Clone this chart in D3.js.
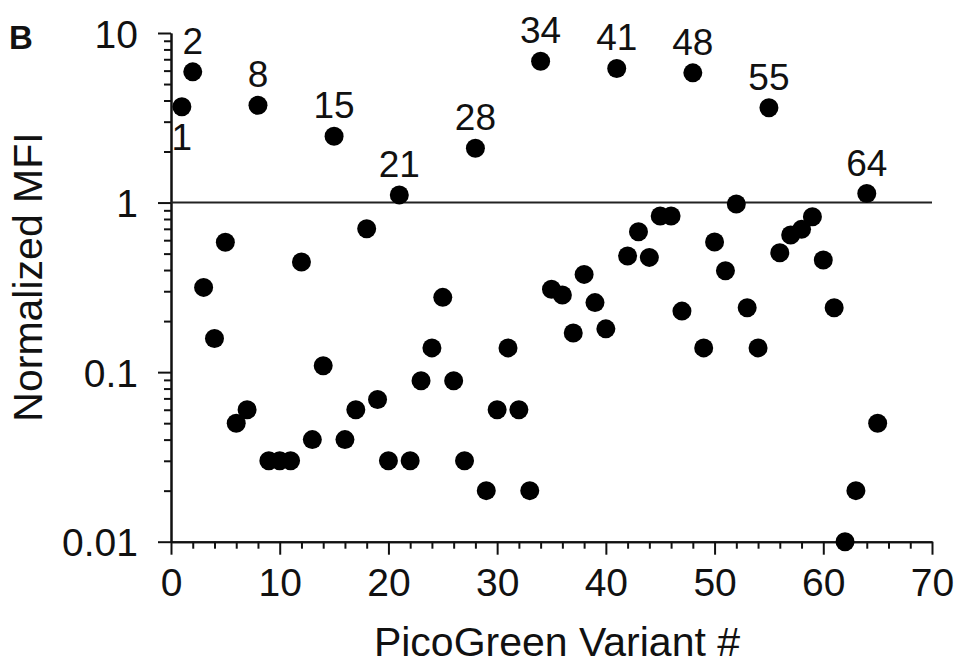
<!DOCTYPE html>
<html>
<head>
<meta charset="utf-8">
<script src="https://cdn.jsdelivr.net/npm/d3@7/dist/d3.min.js"></script>
<style>
  html, body { margin: 0; padding: 0; background: #fff; }
  svg { display: block; }
  text { font-family: "Liberation Sans", Arial, Helvetica, sans-serif; fill: #111; }
</style>
</head>
<body>
<svg id="chart" width="961" height="670"></svg>
<script>
// ---- data ----
const variants = [1,2,3,4,5,6,7,8,9,10,11,12,13,14,15,16,17,18,19,20,21,22,23,24,25,26,27,28,29,30,31,32,33,34,35,36,37,38,39,40,41,42,43,44,45,46,47,48,49,50,51,52,53,54,55,56,57,58,59,60,61,62,63,64,65];
const mfi = [3.67,5.9,0.316,0.158,0.583,0.05,0.06,3.75,0.03,0.03,0.03,0.446,0.04,0.109,2.46,0.04,0.06,0.70,0.069,0.03,1.11,0.03,0.089,0.139,0.276,0.089,0.03,2.09,0.02,0.06,0.139,0.06,0.02,6.82,0.308,0.285,0.17,0.377,0.257,0.18,6.18,0.484,0.673,0.475,0.833,0.833,0.229,5.82,0.139,0.585,0.396,0.98,0.24,0.139,3.62,0.506,0.643,0.695,0.825,0.458,0.24,0.01,0.02,1.13,0.05];
const labeledVariants = [1,2,8,15,21,28,34,41,48,55,64];
const labelsBelow = [1];
const xMajorTicks = [0,10,20,30,40,50,60,70];
const xMinorTicks = [2,4,6,8,12,14,16,18,22,24,26,28,32,34,36,38,42,44,46,48,52,54,56,58,62,64,66,68];
const yMajorTicks = [0.01,0.1,1,10];
const yTickLabels = ["0.01","0.1","1","10"];
const yMinorTicks = [0.02,0.03,0.04,0.05,0.06,0.07,0.08,0.09,0.2,0.3,0.4,0.5,0.6,0.7,0.8,0.9,2,3,4,5,6,7,8,9];
const referenceLevel = 1;
const xTitle = "PicoGreen Variant #";
const yTitle = "Normalized MFI";
const panelLetter = "B";

// ---- chart ----
const svg = d3.select("#chart");
const x = d3.scaleLinear().domain([0, 70]).range([171, 932]);
const y = d3.scaleLog().domain([0.01, 10]).range([541.7, 33]);
const ink = "#111";

// x axis
const gxMinor = svg.append("g").attr("transform", `translate(0,${y(0.01)})`)
  .call(d3.axisBottom(x).tickValues(xMinorTicks).tickSize(7).tickSizeOuter(0).tickFormat(""));
const gx = svg.append("g").attr("transform", `translate(0,${y(0.01)})`)
  .call(d3.axisBottom(x).tickValues(xMajorTicks).tickSize(13).tickSizeOuter(0).tickPadding(14).tickFormat(d3.format("d")));
// y axis
const gyMinor = svg.append("g").attr("transform", `translate(${x(0)},0)`)
  .call(d3.axisLeft(y).tickValues(yMinorTicks).tickSize(7).tickSizeOuter(0).tickFormat(""));
const gy = svg.append("g").attr("transform", `translate(${x(0)},0)`)
  .call(d3.axisLeft(y).tickValues(yMajorTicks).tickSize(13).tickSizeOuter(0).tickPadding(20)
        .tickFormat((d, i) => yTickLabels[i]));

[gxMinor, gx, gyMinor, gy].forEach(g => {
  g.selectAll("path.domain").attr("stroke", ink).attr("stroke-width", 2);
  g.selectAll(".tick line").attr("stroke", ink).attr("stroke-width", 2);
});
gx.selectAll(".tick text").attr("font-size", 39).attr("dy", "0.71em")
  .style("font-family", "'Liberation Sans', Arial, sans-serif").attr("fill", ink);
gy.selectAll(".tick text").attr("font-size", 39).attr("dy", "0.36em")
  .style("font-family", "'Liberation Sans', Arial, sans-serif").attr("fill", ink);

// reference line at 1
svg.append("line")
  .attr("x1", x(0)).attr("x2", x(70))
  .attr("y1", y(referenceLevel)).attr("y2", y(referenceLevel))
  .attr("stroke", "#222").attr("stroke-width", 2);

// points
const pts = variants.map((v, i) => ({ v, m: mfi[i] }));
svg.append("g").selectAll("circle").data(pts).join("circle")
  .attr("cx", d => x(d.v)).attr("cy", d => y(d.m)).attr("r", 9.5)
  .attr("fill", "#000");

// point labels
svg.append("g").selectAll("text").data(pts.filter(d => labeledVariants.includes(d.v))).join("text")
  .attr("x", d => x(d.v))
  .attr("y", d => labelsBelow.includes(d.v) ? y(d.m) + 43 : y(d.m) - 18)
  .attr("text-anchor", "middle").attr("font-size", 37)
  .text(d => d.v);

// axis titles
svg.append("text").attr("x", 557).attr("y", 656).attr("text-anchor", "middle")
  .attr("font-size", 41).text(xTitle);
svg.append("text").attr("transform", "translate(42,277) rotate(-90)").attr("text-anchor", "middle")
  .attr("font-size", 41).text(yTitle);

// panel letter
svg.append("text").attr("x", 9).attr("y", 49).attr("font-size", 33).attr("font-weight", "bold")
  .text(panelLetter);
</script>
</body>
</html>
